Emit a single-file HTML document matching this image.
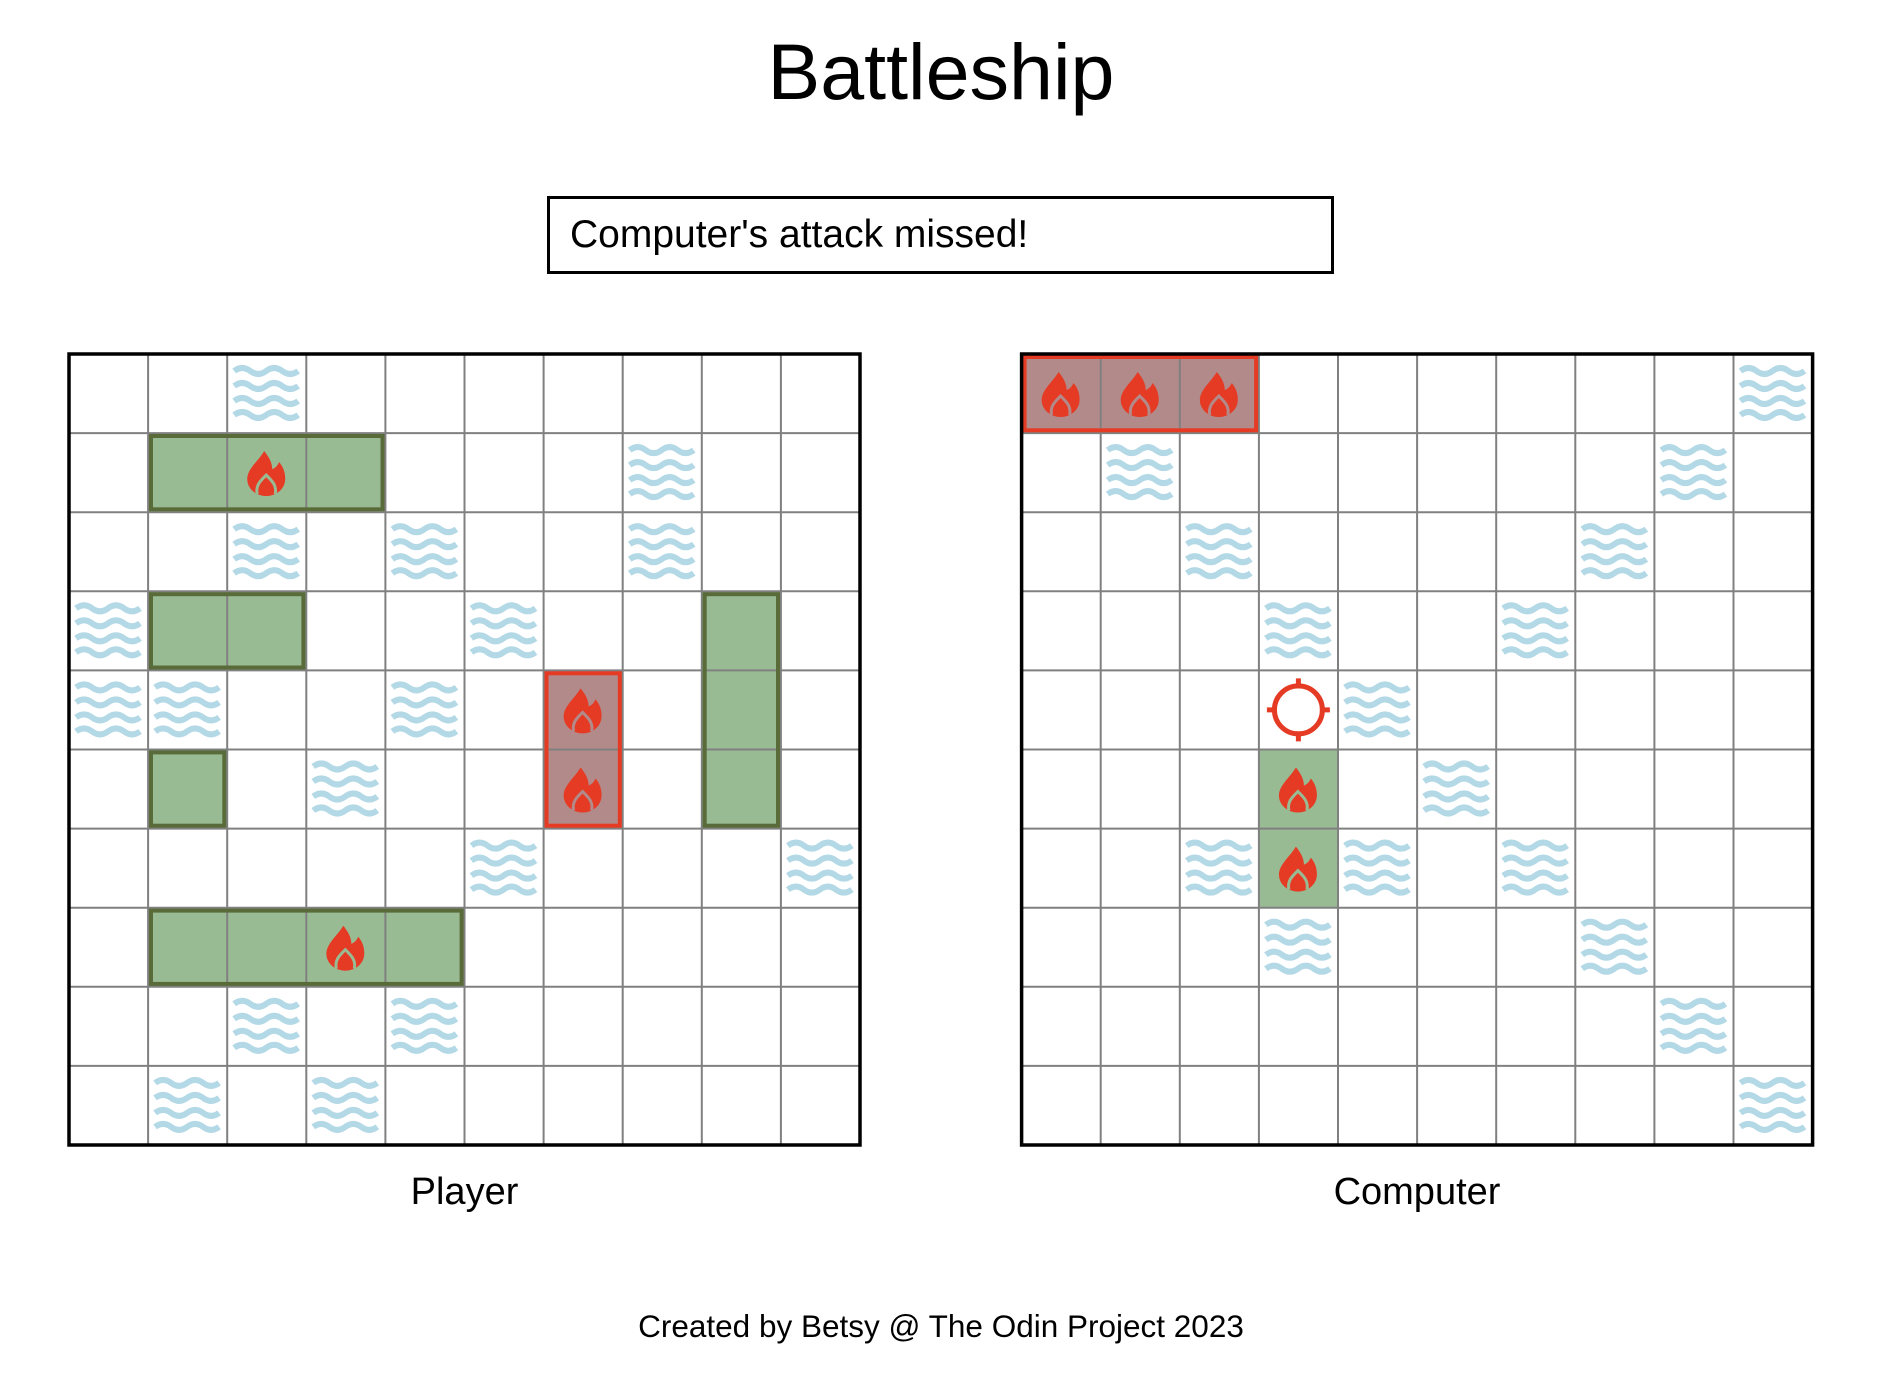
<!DOCTYPE html>
<html><head><meta charset="utf-8"><style>html,body{margin:0;padding:0;background:#fff}svg{display:block}text{font-family:"Liberation Sans",Arial,sans-serif;fill:#000}</style></head>
<body>
<svg width="1878" height="1384" viewBox="0 0 1878 1384" xmlns="http://www.w3.org/2000/svg">
<defs>
<g id="w" fill="none" stroke="#b3d8e6" stroke-width="6">
<path d="M7,17 q8,-6 16,0 t16,0 t16,0 t16,0"/>
<path d="M7,32 q8,-6 16,0 t16,0 t16,0 t16,0"/>
<path d="M7,47 q8,-6 16,0 t16,0 t16,0 t16,0"/>
<path d="M7,61 q8,-6 16,0 t16,0 t16,0 t16,0"/>
</g>
<path id="flame" d="M37,18 C31,28 20,36 20,46 A19,17 0 0 0 58,46 C58,39 56,34 52,29 C50,33 48,35 45,36 C45,29 41,23 37,18 Z" fill="#e53a24"/>
<g id="fg"><use href="#flame"/><path d="M30,61 C28,52 34,47 39,42 C44,47 50,52 48,61" fill="none" stroke="#99bb94" stroke-width="3"/><circle cx="39" cy="55" r="6" fill="#e53a24"/></g>
<g id="fr"><use href="#flame"/><path d="M30,61 C28,52 34,47 39,42 C44,47 50,52 48,61" fill="none" stroke="#b38a8a" stroke-width="3"/><circle cx="39" cy="55" r="6" fill="#e53a24"/></g>
<g id="ch" fill="none" stroke="#e53a24" stroke-width="5"><circle cx="39.5" cy="39.5" r="24"/><path d="M39.5,8v10M39.5,61v10M8,39.5h10M61,39.5h10"/></g>
</defs>

<text x="941" y="99" font-size="79" text-anchor="middle">Battleship</text>
<rect x="548.5" y="197.5" width="784" height="75" fill="none" stroke="#000" stroke-width="3"/>
<text x="570" y="247" font-size="39">Computer's attack missed!</text>

<!-- PLAYER -->
<g>
<rect x="148.1" y="433.1" width="237.3" height="79.1" fill="#99bb94"/>
<rect x="148.1" y="591.3" width="158.2" height="79.1" fill="#99bb94"/>
<rect x="701.8" y="591.3" width="79.1" height="237.3" fill="#99bb94"/>
<rect x="148.1" y="749.5" width="79.1" height="79.1" fill="#99bb94"/>
<rect x="148.1" y="907.7" width="316.4" height="79.1" fill="#99bb94"/>
<rect x="543.6" y="670.4" width="79.1" height="158.2" fill="#b38a8a"/>
<g stroke="#808080" stroke-width="2">
<path d="M148.1,354V1145M227.2,354V1145M306.3,354V1145M385.4,354V1145M464.5,354V1145M543.6,354V1145M622.7,354V1145M701.8,354V1145M780.9,354V1145"/>
<path d="M69,433.1H860M69,512.2H860M69,591.3H860M69,670.4H860M69,749.5H860M69,828.6H860M69,907.7H860M69,986.8H860M69,1065.9H860"/>
</g>
<g fill="none" stroke="#5a6b3a" stroke-width="4">
<rect x="151" y="436" width="231.5" height="73.3"/>
<rect x="151" y="594.2" width="152.4" height="73.3"/>
<rect x="704.7" y="594.2" width="73.3" height="231.5"/>
<rect x="151" y="752.4" width="73.3" height="73.3"/>
<rect x="151" y="910.6" width="310.6" height="73.3"/>
</g>
<rect x="546.5" y="673.3" width="73.3" height="152.4" fill="none" stroke="#e53a24" stroke-width="4"/>
<use href="#w" x="227.2" y="354"/>
<use href="#w" x="622.7" y="433.1"/>
<use href="#w" x="227.2" y="512.2"/><use href="#w" x="385.4" y="512.2"/><use href="#w" x="622.7" y="512.2"/>
<use href="#w" x="69" y="591.3"/><use href="#w" x="464.5" y="591.3"/>
<use href="#w" x="69" y="670.4"/><use href="#w" x="148.1" y="670.4"/><use href="#w" x="385.4" y="670.4"/>
<use href="#w" x="306.3" y="749.5"/>
<use href="#w" x="464.5" y="828.6"/><use href="#w" x="780.9" y="828.6"/>
<use href="#w" x="227.2" y="986.8"/><use href="#w" x="385.4" y="986.8"/>
<use href="#w" x="148.1" y="1065.9"/><use href="#w" x="306.3" y="1065.9"/>
<use href="#fg" x="227.2" y="433.1"/>
<use href="#fg" x="306.3" y="907.7"/>
<use href="#fr" x="543.6" y="670.4"/><use href="#fr" x="543.6" y="749.5"/>
<rect x="69" y="354" width="791" height="791" fill="none" stroke="#000" stroke-width="3.5"/>
</g>
<text x="464.5" y="1204" font-size="38" text-anchor="middle">Player</text>

<!-- COMPUTER -->
<g transform="translate(-2.4,0)">
<rect x="1024" y="354" width="237.3" height="79.1" fill="#b38a8a"/>
<rect x="1261.3" y="749.5" width="79.1" height="158.2" fill="#99bb94"/>
<g stroke="#808080" stroke-width="2">
<path d="M1103.1,354V1145M1182.2,354V1145M1261.3,354V1145M1340.4,354V1145M1419.5,354V1145M1498.6,354V1145M1577.7,354V1145M1656.8,354V1145M1735.9,354V1145"/>
<path d="M1024,433.1H1815M1024,512.2H1815M1024,591.3H1815M1024,670.4H1815M1024,749.5H1815M1024,828.6H1815M1024,907.7H1815M1024,986.8H1815M1024,1065.9H1815"/>
</g>
<rect x="1027" y="357" width="231.5" height="73.3" fill="none" stroke="#e53a24" stroke-width="4"/>
<use href="#fr" x="1024" y="354"/><use href="#fr" x="1103.1" y="354"/><use href="#fr" x="1182.2" y="354"/>
<use href="#w" x="1735.9" y="354"/>
<use href="#w" x="1103.1" y="433.1"/><use href="#w" x="1656.8" y="433.1"/>
<use href="#w" x="1182.2" y="512.2"/><use href="#w" x="1577.7" y="512.2"/>
<use href="#w" x="1261.3" y="591.3"/><use href="#w" x="1498.6" y="591.3"/>
<use href="#ch" x="1261.3" y="670.4"/><use href="#w" x="1340.4" y="670.4"/>
<use href="#fg" x="1261.3" y="749.5"/><use href="#w" x="1419.5" y="749.5"/>
<use href="#w" x="1182.2" y="828.6"/><use href="#fg" x="1261.3" y="828.6"/><use href="#w" x="1340.4" y="828.6"/><use href="#w" x="1498.6" y="828.6"/>
<use href="#w" x="1261.3" y="907.7"/><use href="#w" x="1577.7" y="907.7"/>
<use href="#w" x="1656.8" y="986.8"/>
<use href="#w" x="1735.9" y="1065.9"/>
<rect x="1024" y="354" width="791" height="791" fill="none" stroke="#000" stroke-width="3.5"/>
</g>
<text x="1417" y="1204" font-size="38" text-anchor="middle">Computer</text>

<text x="941" y="1337" font-size="31.5" text-anchor="middle">Created by Betsy @ The Odin Project 2023</text>
</svg>
</body></html>
